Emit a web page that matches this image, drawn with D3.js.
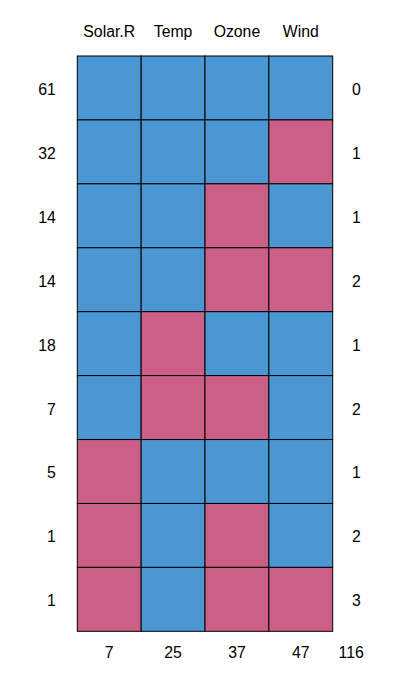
<!DOCTYPE html>
<html>
<head>
<meta charset="utf-8">
<script src="https://cdn.jsdelivr.net/npm/d3@7"></script>
<style>
    body { margin: 0; background: #fff; }
    text { font-family: "Liberation Sans", Arial, sans-serif; font-size: 15.8px; fill: #000; }
</style>
</head>
<body>
<script>
(function() {
    // chart data
    var variables = ["Solar.R", "Temp", "Ozone", "Wind"];
    var rowCounts = [61, 32, 14, 14, 18, 7, 5, 1, 1];
    var rowMissing = [0, 1, 1, 2, 1, 2, 1, 2, 3];
    var colMissing = [7, 25, 37, 47];
    var totalMissing = 116;
    // 1 = observed, 0 = missing
    var patterns = [
        [1, 1, 1, 1],
        [1, 1, 1, 0],
        [1, 1, 0, 1],
        [1, 1, 0, 0],
        [1, 0, 1, 1],
        [1, 0, 0, 1],
        [0, 1, 1, 1],
        [0, 1, 0, 1],
        [0, 1, 0, 0]
    ];

    var width = 404, height = 694;
    var svg = d3.select("body").append("svg")
        .attr("width", width)
        .attr("height", height);

    var x = d3.scaleBand().domain(d3.range(variables.length)).range([77.3, 332.7]);
    var y = d3.scaleBand().domain(d3.range(rowCounts.length)).range([56, 631.3]);
    var color = d3.scaleOrdinal().domain([1, 0]).range(["#4b97d3", "#cb5f85"]);

    // cells
    var cells = [];
    patterns.forEach(function(row, r) {
        row.forEach(function(v, c) {
            cells.push({ r: r, c: c, v: v });
        });
    });

    svg.append("g").selectAll("rect")
        .data(cells)
        .enter()
            .append("rect")
            .attr("x", function(d) { return x(d.c); })
            .attr("y", function(d) { return y(d.r); })
            .attr("width", x.bandwidth())
            .attr("height", y.bandwidth())
            .attr("fill", function(d) { return color(d.v); })
            .attr("stroke", "#000")
            .attr("stroke-width", 1);

    // top variable names
    svg.append("g").selectAll("text")
        .data(variables)
        .enter()
            .append("text")
            .attr("x", function(d, i) { return x(i) + x.bandwidth() / 2; })
            .attr("y", 36.7)
            .attr("text-anchor", "middle")
            .text(function(d) { return d; });

    // left row frequencies (right aligned)
    svg.append("g").selectAll("text")
        .data(rowCounts)
        .enter()
            .append("text")
            .attr("x", 55.8)
            .attr("y", function(d, i) { return y(i) + y.bandwidth() / 2 + 7; })
            .attr("text-anchor", "end")
            .text(function(d) { return d; });

    // right missing per pattern
    svg.append("g").selectAll("text")
        .data(rowMissing)
        .enter()
            .append("text")
            .attr("x", 356.3)
            .attr("y", function(d, i) { return y(i) + y.bandwidth() / 2 + 7; })
            .attr("text-anchor", "middle")
            .text(function(d) { return d; });

    // bottom missing per variable
    svg.append("g").selectAll("text")
        .data(colMissing)
        .enter()
            .append("text")
            .attr("x", function(d, i) { return x(i) + x.bandwidth() / 2; })
            .attr("y", 658.3)
            .attr("text-anchor", "middle")
            .text(function(d) { return d; });

    svg.append("text")
        .attr("x", 351.2)
        .attr("y", 658.3)
        .attr("text-anchor", "middle")
        .text(totalMissing);
})();
</script>
</body>
</html>
